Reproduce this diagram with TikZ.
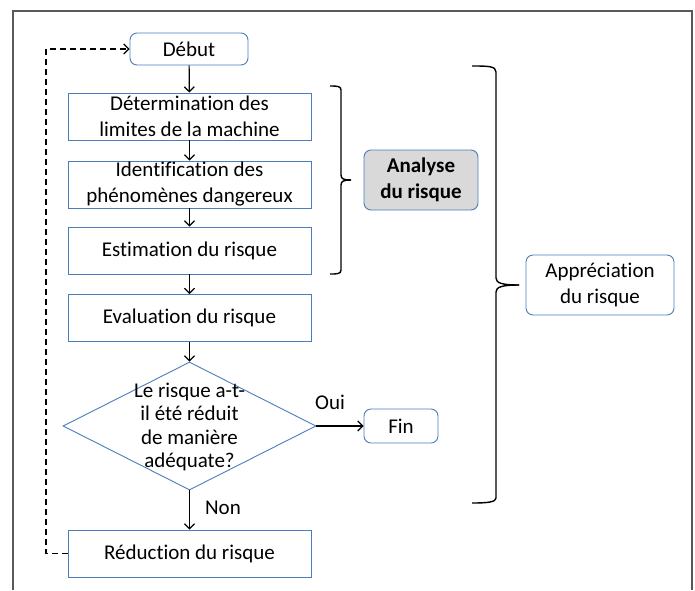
\documentclass[tikz,border=0pt]{standalone}
\usepackage{fontspec}
\setmainfont{Carlito}[Ligatures=NoCommon]
\usetikzlibrary{shapes.geometric,arrows.meta}
\definecolor{boxblue}{HTML}{4A7EBB}
\definecolor{framegray}{HTML}{595959}
\definecolor{fillgray}{HTML}{D9D9D9}
\tikzset{
  stepbox/.style={draw=boxblue, line width=0.9pt, fill=white, minimum width=243pt, minimum height=47pt, inner sep=0pt, align=center, font=\fontsize{21}{26}\selectfont},
  roundbox/.style={draw=boxblue, line width=0.9pt, fill=white, rounded corners=7pt, inner sep=0pt, align=center, font=\fontsize{21}{26}\selectfont},
  flow/.style={line width=1.2pt, -{Straight Barb[length=5pt,width=10pt,line width=1.2pt]}},
  loopline/.style={line width=1.2pt, dash pattern=on 6pt off 4pt, -{Straight Barb[length=5pt,width=10pt,line width=1.2pt]}},
  bracestyle/.style={line width=1.4pt, line join=round},
  lbl/.style={font=\fontsize{21}{26}\selectfont, inner sep=0pt}
}
\begin{document}
\begin{tikzpicture}[x=1pt,y=-1pt]
\useasboundingbox (0,0) rectangle (695,590);
\fill[white] (0,0) rectangle (695,590);
% frame
\draw[framegray, line width=1.3pt] (13,590) -- (13,11) -- (692,11) -- (692,590);

% nodes
\node[roundbox, minimum width=118pt, minimum height=32pt] (debut) at (189,49) {Début};
\node[stepbox] (det) at (189.5,116.5) {Détermination des\\limites de la machine};
\node[stepbox] (ident) at (189.5,184.5) {Identification des\\phénomènes dangereux};
\node[stepbox] (estim) at (189.5,250.5) {Estimation du risque};
\node[stepbox] (eval) at (189.5,318) {Evaluation du risque};
\node[diamond, draw=boxblue, line width=0.9pt, minimum width=253pt, minimum height=128pt, inner sep=0pt] (dec) at (189.5,426) {};
\node[lbl, align=center, font=\fontsize{21}{23.5}\selectfont] (dectext) at (189.5,427) {Le risque a-t-\\il été réduit\\de manière\\adéquate?};
\node[stepbox] (reduc) at (189.5,553.5) {Réduction du risque};
\node[roundbox, minimum width=74pt, minimum height=34pt] (fin) at (401,426) {Fin};
\node[roundbox, fill=fillgray, minimum width=114pt, minimum height=60pt, font=\bfseries\fontsize{21}{26}\selectfont] (analyse) at (421,180) {Analyse\\du risque};
\node[roundbox, minimum width=148pt, minimum height=60pt] (appr) at (600,285) {Appréciation\\du risque};

% labels
\node[lbl] (oui) at (330,402) {Oui};
\node[lbl] (non) at (223,508) {Non};

% connectors
\draw[flow] (debut) -- (det);
\draw[flow] (det) -- (ident);
\draw[flow] (ident) -- (estim);
\draw[flow] (estim) -- (eval);
\draw[flow] (eval) -- (dec.north);
\draw[flow] (dec.south) -- (reduc);
\draw[flow] (dec.east) -- (fin);
\coordinate (lb) at (46,553.5);
\coordinate (lt) at (46,49);
\draw[loopline] (reduc.west) -- (lb) -- (lt) -- (debut.west);

% braces
\draw[bracestyle] (330,86) .. controls (337,86) and (341,86) .. (341,90)
  -- (341,175) .. controls (341,179) and (344,180) .. (351,180);
\draw[bracestyle] (351,180) .. controls (344,180) and (341,181) .. (341,185)
  -- (341,270) .. controls (341,274) and (337,274) .. (330,274);
\draw[bracestyle] (472,66) .. controls (488,66) and (496,66) .. (496,72)
  -- (496,278) .. controls (496,283) and (502,285) .. (519,285);
\draw[bracestyle] (519,285) .. controls (502,285) and (496,287) .. (496,292)
  -- (496,498) .. controls (496,502) and (488,503) .. (472,503);
\end{tikzpicture}
\end{document}
